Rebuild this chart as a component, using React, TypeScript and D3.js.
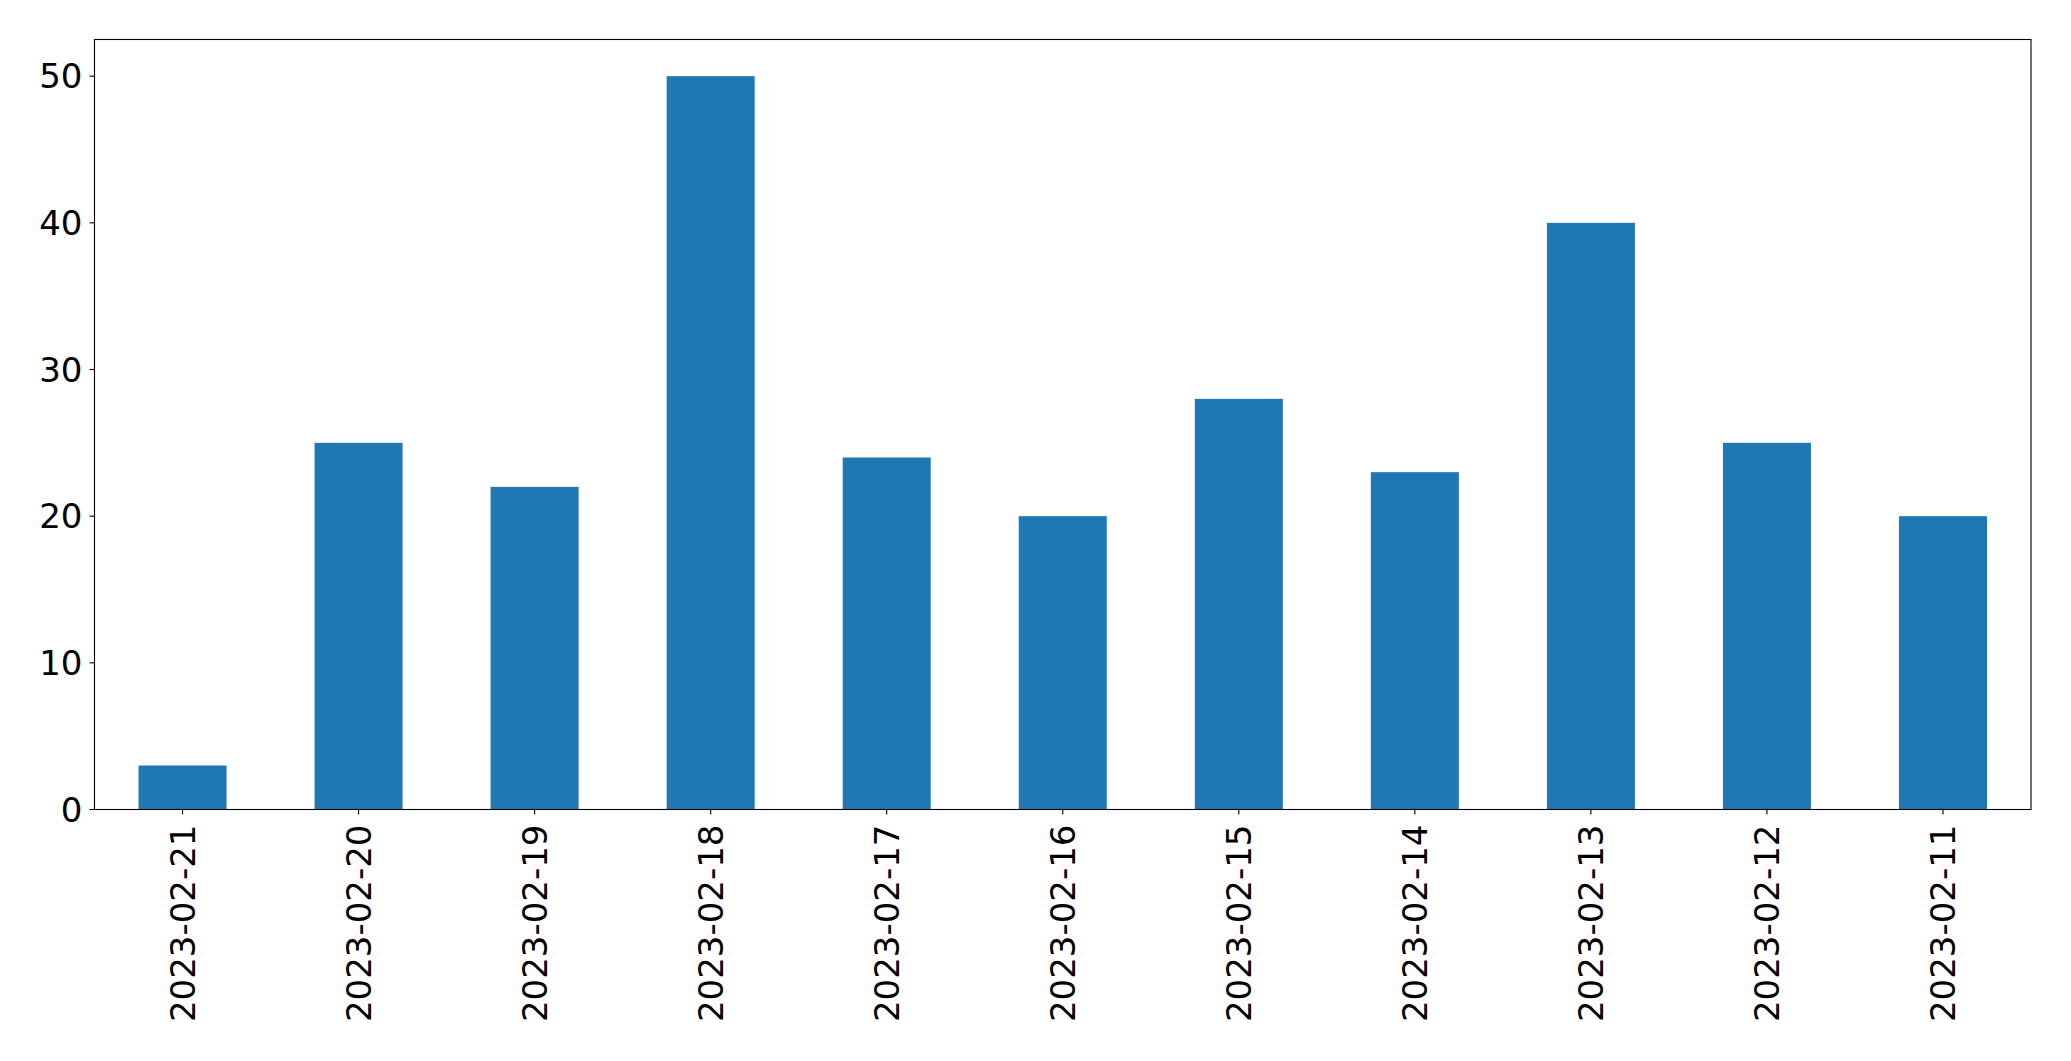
import React from "react";
import * as d3 from "d3";

const categories = ["2023-02-21","2023-02-20","2023-02-19","2023-02-18","2023-02-17","2023-02-16","2023-02-15","2023-02-14","2023-02-13","2023-02-12","2023-02-11"];
const values = [3, 25, 22, 50, 24, 20, 28, 23, 40, 25, 20];
const yTicks = [0, 10, 20, 30, 40, 50];

export default function App() {
  const W = 2071, H = 1061;
  const left = 94.5, right = 2031, top = 39.5, bottom = 809.5;
  const x = d3.scaleBand<string>().domain(categories).range([left, right]).paddingInner(0.5).paddingOuter(0.25);
  const y = d3.scaleLinear().domain([0, 52.5]).range([bottom, top]);
  const font = "DejaVu Sans, sans-serif";
  const fs = 34;
  return (
    <svg width={W} height={H} style={{ position: "absolute", left: 0, top: 0, background: "#fff" }}>
      <rect x={0} y={0} width={W} height={H} fill="#fff" />
      {categories.map((c, i) => (
        <rect key={c} x={x(c)} y={y(values[i])} width={x.bandwidth()} height={y(0) - y(values[i])} fill="#1f77b4" />
      ))}
      <rect x={left} y={top} width={right - left} height={bottom - top} fill="none" stroke="#000" strokeWidth={1.1} />
      {yTicks.map((t) => (
        <g key={t}>
          <line x1={left - 5} x2={left} y1={y(t)} y2={y(t)} stroke="#000" strokeWidth={1.1} />
          <text x={left - 12} y={y(t)} dy="0.36em" textAnchor="end" fontFamily={font} fontSize={fs} fill="#000">{t}</text>
        </g>
      ))}
      {categories.map((c) => {
        const cx = (x(c) as number) + x.bandwidth() / 2;
        return (
          <g key={c}>
            <line x1={cx} x2={cx} y1={bottom} y2={bottom + 5} stroke="#000" strokeWidth={1.1} />
            <text transform={`translate(${cx},${bottom + 15}) rotate(-90)`} dy="0.36em" textAnchor="end" fontFamily={font} fontSize={fs} fill="#000">{c}</text>
          </g>
        );
      })}
    </svg>
  );
}
